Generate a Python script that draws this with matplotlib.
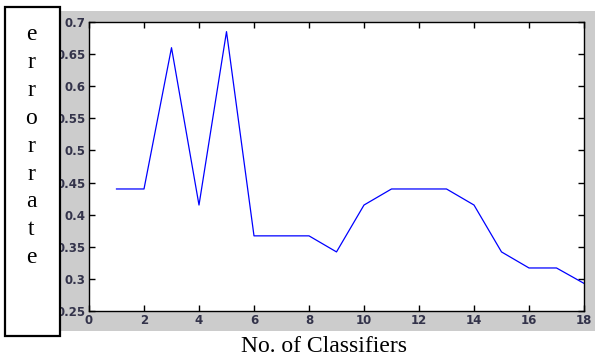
import matplotlib

matplotlib.use("Agg")
import matplotlib.pyplot as plt
from matplotlib.patches import Rectangle

# number of classifiers vs error rate
classifiers = list(range(1, 19))
error_rate = [0.44, 0.44, 0.66, 0.415, 0.685, 0.367, 0.367, 0.367, 0.342,
              0.415, 0.44, 0.44, 0.44, 0.415, 0.342, 0.317, 0.317, 0.293]
x_ticks = [0, 2, 4, 6, 8, 10, 12, 14, 16, 18]
y_ticks = [0.25, 0.3, 0.35, 0.4, 0.45, 0.5, 0.55, 0.6, 0.65, 0.7]
y_label_letters = list("errorrate")
x_label = "No. of Classifiers"

W, H = 595, 360
fig = plt.figure(figsize=(W / 100, H / 100), dpi=100)
fig.patch.set_facecolor("white")

# grey matlab-style figure panel, behind the axes
fig.patches.append(Rectangle((60 / W, 1 - 331 / H), (W - 60) / W, 320 / H,
                             transform=fig.transFigure, facecolor="#cccccc",
                             edgecolor="none", zorder=-5))

ax = fig.add_axes([89 / W, 1 - 311 / H, (584 - 89) / W, (311 - 22) / H])
ax.plot(classifiers, error_rate, color="#0000ff", lw=0.9)
ax.set_xlim(0, 18)
ax.set_ylim(0.25, 0.7)
ax.set_xticks(x_ticks)
ax.set_yticks(y_ticks)
ax.set_xticklabels([str(t) for t in x_ticks])
ax.set_yticklabels([f"{t:g}" for t in y_ticks])
ax.tick_params(direction="in", length=4, width=1, top=True, right=True,
               labelsize=8.5, labelcolor="#33334a", pad=2.5)
for lbl in ax.get_xticklabels() + ax.get_yticklabels():
    lbl.set_fontweight("bold")
    lbl.set_family("DejaVu Sans")
for s in ax.spines.values():
    s.set_linewidth(1)

# boxed vertical label on the left, drawn over the tick labels
fig.patches.append(Rectangle((5 / W, 1 - 336 / H), 55 / W, 329 / H,
                             transform=fig.transFigure, facecolor="white",
                             edgecolor="black", lw=1.6, zorder=5))
for i, ch in enumerate(y_label_letters):
    fig.text(31 / W, 1 - (35 + i * 27.8) / H, ch, ha="center", va="center",
             fontsize=17, family="Liberation Serif", zorder=6)

fig.text(324 / W, 1 - 346 / H, x_label, ha="center", va="center",
         fontsize=17, family="Liberation Serif")

fig.savefig("out.png", dpi=100)
